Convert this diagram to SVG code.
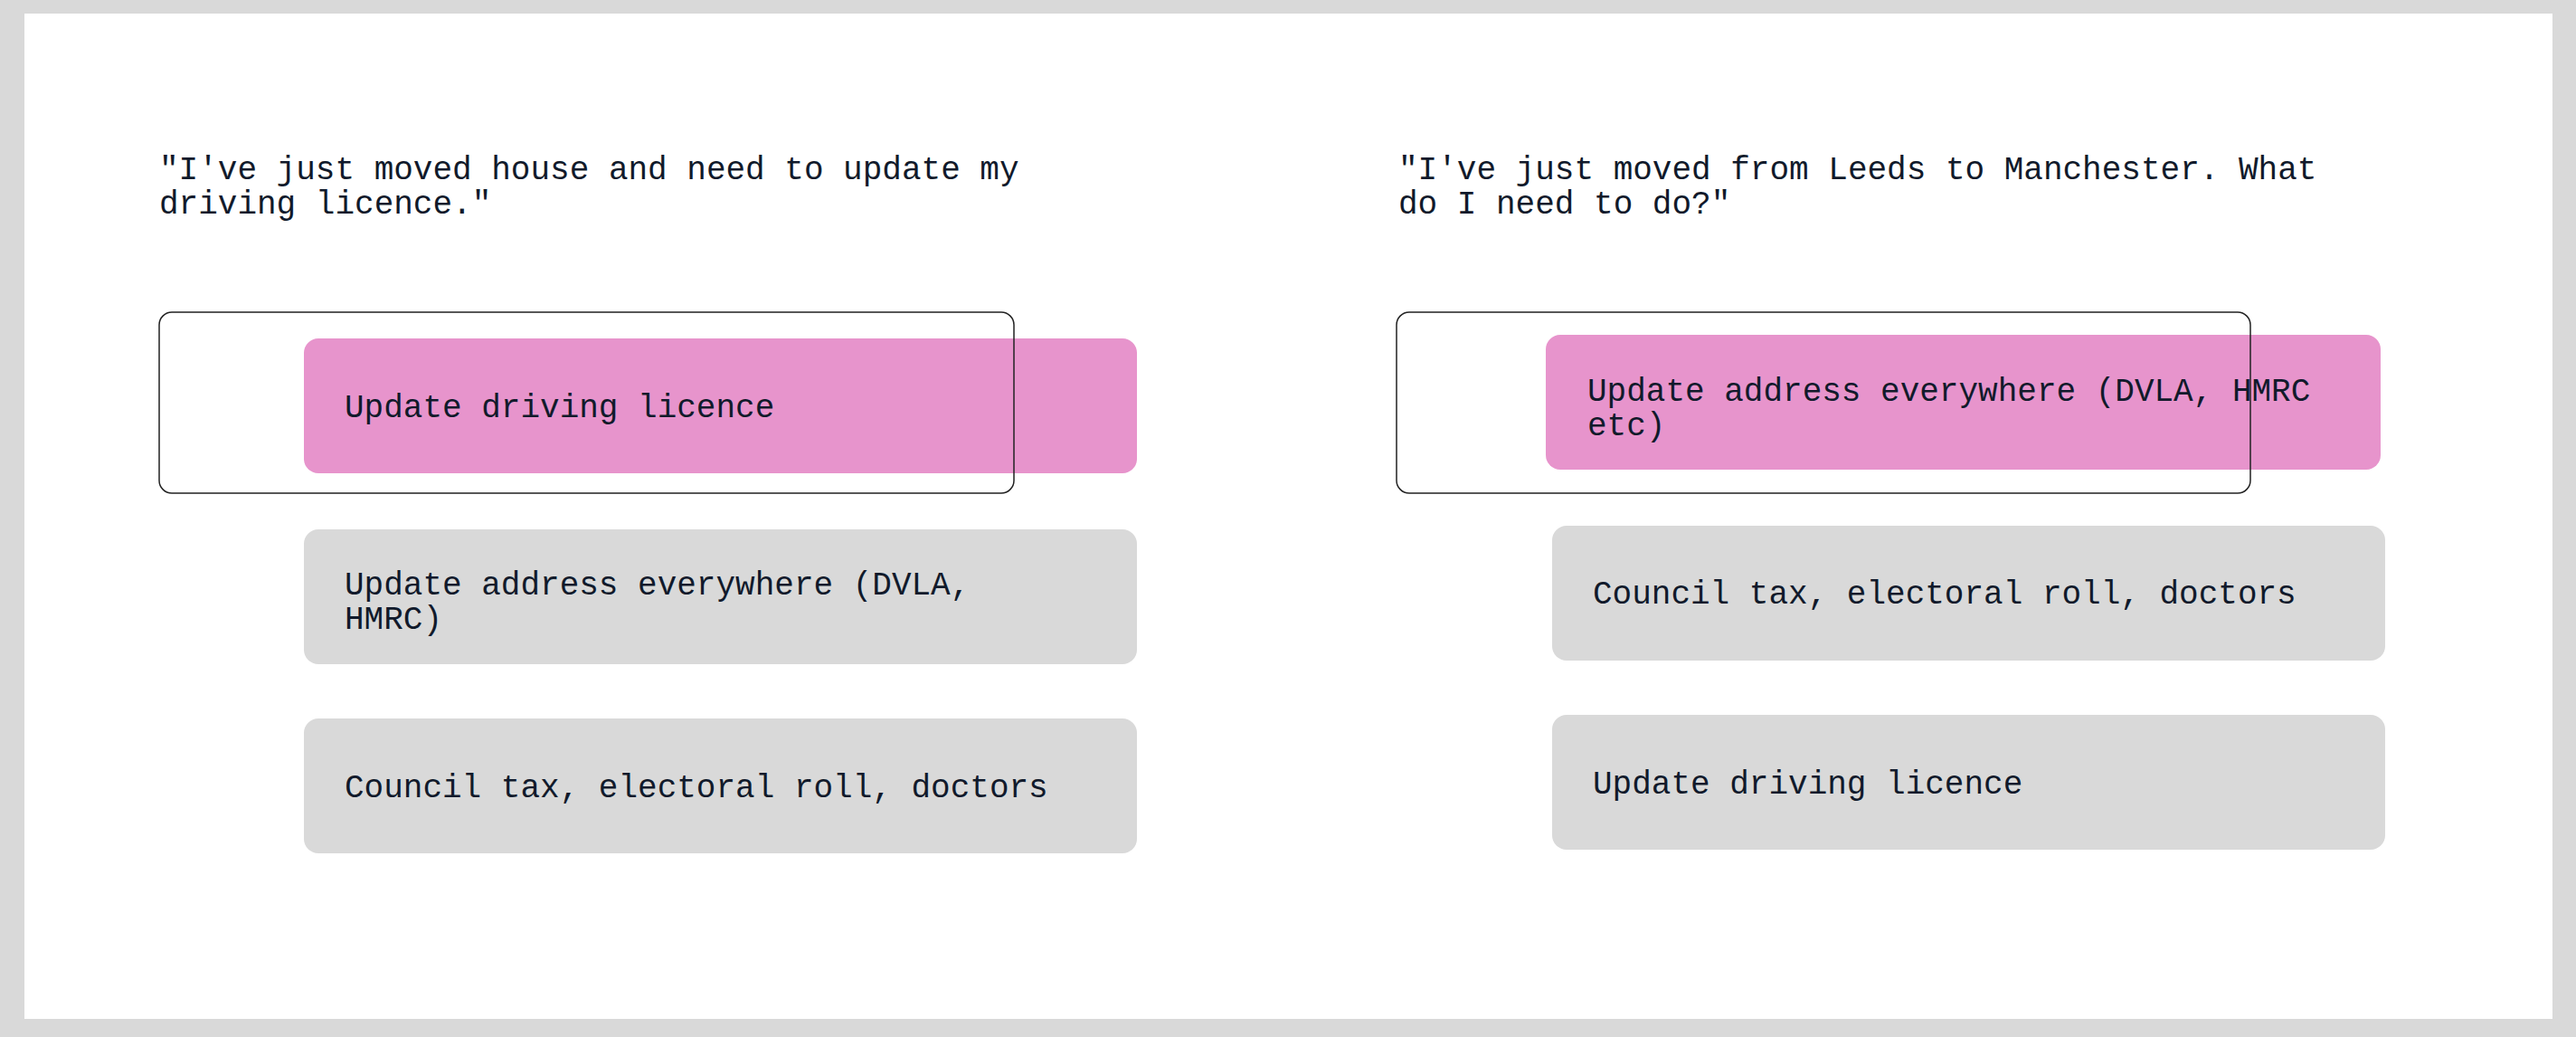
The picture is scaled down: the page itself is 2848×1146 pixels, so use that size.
<svg xmlns="http://www.w3.org/2000/svg" width="2848" height="1146" viewBox="0 0 2848 1146">
<style>
text{font-family:"Liberation Mono","DejaVu Sans Mono",monospace;font-size:36px;fill:#111a2b}
.pink{fill:#E794CC}
.gray{fill:#D9D9D9}
.out{fill:none;stroke:#222;stroke-width:1.5}
</style>
<rect width="2848" height="1146" fill="#D9D9D9"/>
<rect x="27" y="15" width="2795" height="1111" fill="#fff"/>
<g id="q1"><text x="176" y="198">"I've just moved house and need to update my</text><text x="176" y="236">driving licence."</text></g>
<g id="q2"><text x="1546" y="198">"I've just moved from Leeds to Manchester. What</text><text x="1546" y="236">do I need to do?"</text></g>
<g id="l1"><rect class="pink" x="336" y="374" width="921" height="149" rx="16"/><text x="381" y="461">Update driving licence</text></g>
<g id="l2"><rect class="gray" x="336" y="585" width="921" height="149" rx="16"/><text x="381" y="657">Update address everywhere (DVLA,</text><text x="381" y="695">HMRC)</text></g>
<g id="l3"><rect class="gray" x="336" y="794" width="921" height="149" rx="16"/><text x="381" y="881">Council tax, electoral roll, doctors</text></g>
<g id="r1"><rect class="pink" x="1709" y="370" width="923" height="149" rx="16"/><text x="1755" y="443">Update address everywhere (DVLA, HMRC</text><text x="1755" y="481">etc)</text></g>
<g id="r2"><rect class="gray" x="1716" y="581" width="921" height="149" rx="16"/><text x="1761" y="667">Council tax, electoral roll, doctors</text></g>
<g id="r3"><rect class="gray" x="1716" y="790" width="921" height="149" rx="16"/><text x="1761" y="877">Update driving licence</text></g>
<g id="connectors"><rect class="out" x="176" y="345" width="945" height="200" rx="14"/><rect class="out" x="1544" y="345" width="944" height="200" rx="14"/></g>
</svg>
